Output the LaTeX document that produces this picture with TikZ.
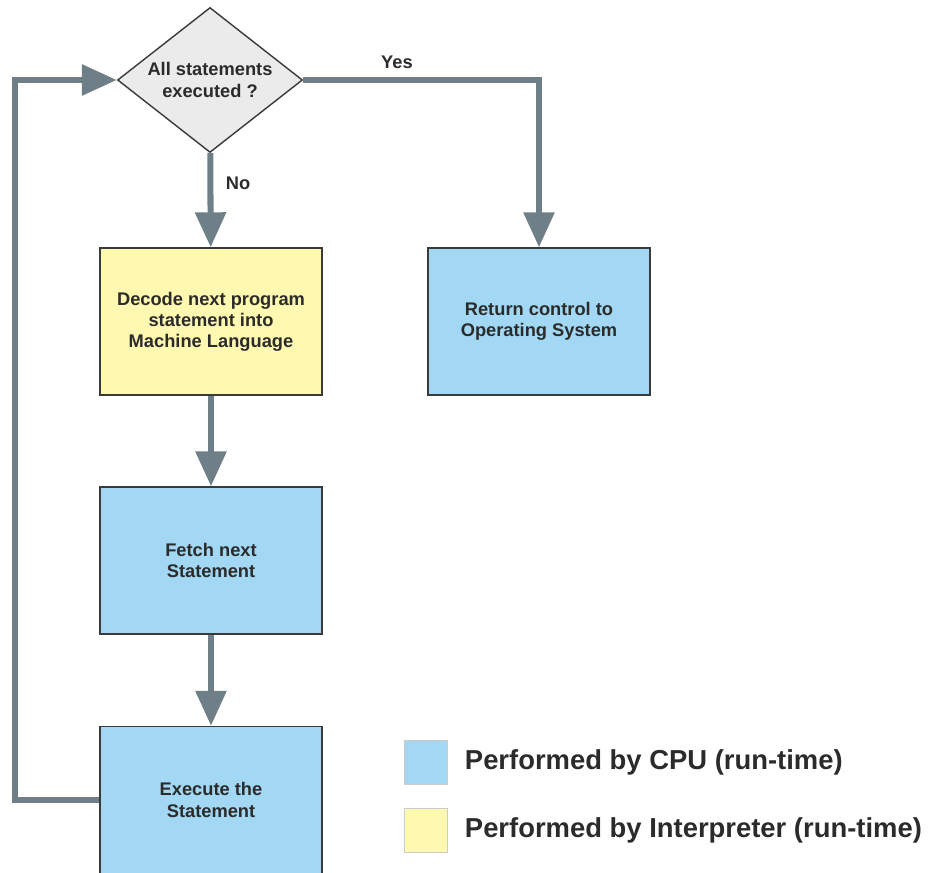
\documentclass[tikz,border=0pt]{standalone}
\usepackage{fontspec}
\setmainfont{Liberation Sans}
\usetikzlibrary{shapes.geometric,arrows.meta}

\definecolor{cpublue}{HTML}{A2D8F3}
\definecolor{interpyellow}{HTML}{FFF8B0}
\definecolor{testgray}{HTML}{EBEBEB}
\definecolor{flowgray}{HTML}{6F7F88}
\definecolor{edgegray}{HTML}{3A3A3A}
\definecolor{textgray}{HTML}{2B2B2B}

\tikzset{
  box/.style={rectangle,draw=edgegray,line width=1pt,minimum width=5.55cm,minimum height=3.675cm,
    align=center,font=\fontsize{13}{15}\selectfont\bfseries,text=textgray},
  cpubox/.style={box,fill=cpublue},
  interpbox/.style={box,fill=interpyellow},
  test/.style={diamond,draw=edgegray,line width=1pt,fill=testgray,inner sep=0pt,aspect=1.6,
    minimum width=4.625cm,minimum height=3.625cm,align=center,
    font=\fontsize{13}{15}\selectfont\bfseries,text=textgray},
  flow/.style={draw=flowgray,line width=4.3pt,-{Triangle[length=0.875cm,width=0.75cm]}},
  swatch/.style={rectangle,draw=black!20,line width=0.6pt,minimum width=1.075cm,minimum height=1.1cm,inner sep=0pt},
  legend/.style={anchor=west,font=\fontsize{19.5}{22}\selectfont\bfseries,text=textgray},
  tag/.style={font=\fontsize{13}{15}\selectfont\bfseries,text=textgray}
}

\begin{document}
\begin{tikzpicture}
\useasboundingbox (0,0) rectangle (23.2,-21.825);

\node at (5.25,-2.0) [test] (alldone) {All statements\\executed ?};
\node at (5.275,-8.0375) [interpbox] (decode) {Decode next program\\statement into\\Machine Language};
\node at (5.275,-14.0125) [cpubox] (fetch) {Fetch next\\Statement};
\node at (5.275,-20.0) [cpubox] (execute) {Execute the\\Statement};
\node at (13.475,-8.0375) [cpubox] (return) {Return control to\\Operating System};
\coordinate (back) at (0.375,-20.0);

\node at (9.925,-1.55) [tag] (yes) {Yes};
\node at (5.95,-4.575) [tag] (no) {No};

\draw[flow] (alldone) -- (decode);
\draw[flow] (decode) -- (fetch);
\draw[flow] (fetch) -- (execute);
\draw[flow] (alldone.east) -| (return.north);
\draw[flow] (execute.west) -- (back) |- (alldone.west);

% legend
\node at (10.64,-19.06) [swatch,fill=cpublue] (cpukey) {};
\node at (10.64,-20.75) [swatch,fill=interpyellow] (interpkey) {};
\node at (11.5,-19.06) [legend] (cputext) {Performed by CPU (run-time)};
\node at (11.5,-20.75) [legend] (interptext) {Performed by Interpreter (run-time)};
\end{tikzpicture}
\end{document}
